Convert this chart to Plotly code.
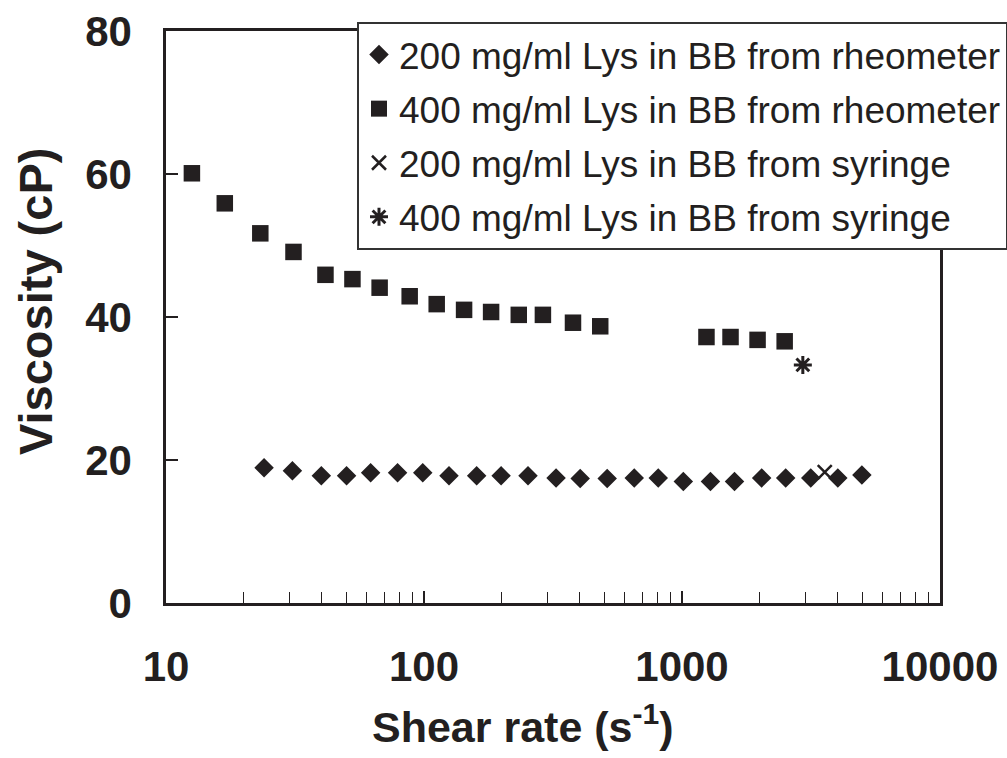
import plotly.graph_objects as go

# ---- data ----
shear_200_rheo = [24.0, 30.9, 40.0, 50.1, 62.1, 79.0, 98.9, 125, 160, 199, 253, 325,
                  403, 513, 653, 809, 1012, 1289, 1598, 2036, 2523, 3155, 4018, 4979]
visc_200_rheo = [18.9, 18.5, 17.8, 17.8, 18.2, 18.2, 18.2, 17.8, 17.8, 17.8, 17.8, 17.5,
                 17.4, 17.4, 17.5, 17.5, 17.0, 17.0, 17.0, 17.5, 17.5, 17.5, 17.5, 17.9]

shear_400_rheo = [12.6, 16.9, 23.2, 31.2, 41.5, 52.8, 67.3, 88, 112, 143, 182, 233, 289,
                  378, 482, 1244, 1542, 1963, 2500]
visc_400_rheo = [60.1, 55.9, 51.7, 49.1, 45.9, 45.3, 44.1, 42.9, 41.8, 41.0, 40.7, 40.3,
                 40.3, 39.2, 38.7, 37.2, 37.2, 36.8, 36.6]

shear_200_syr = [3575]
visc_200_syr = [18.3]

shear_400_syr = [2940]
visc_400_syr = [33.3]

series_names = [
    "200 mg/ml Lys in BB from rheometer",
    "400 mg/ml Lys in BB from rheometer",
    "200 mg/ml Lys in BB from syringe",
    "400 mg/ml Lys in BB from syringe",
]

x_tick_vals = [10, 100, 1000, 10000]
x_tick_text = ["10", "100", "1000", "10000"]
y_tick_vals = [0, 20, 40, 60, 80]

INK = "#231f20"
FONT = "Liberation Sans, Arial, sans-serif"

fig = go.Figure()
fig.add_trace(go.Scatter(
    x=shear_200_rheo, y=visc_200_rheo, mode="markers", name=series_names[0],
    legendgroup="a",
    marker=dict(symbol="diamond", size=15, color=INK, line=dict(width=0))))
fig.add_trace(go.Scatter(
    x=shear_400_rheo, y=visc_400_rheo, mode="markers", name=series_names[1],
    legendgroup="b",
    marker=dict(symbol="square", size=16.5, color=INK, line=dict(width=0))))
fig.add_trace(go.Scatter(
    x=shear_200_syr, y=visc_200_syr, mode="markers", name=series_names[2],
    legendgroup="c",
    marker=dict(symbol="x-thin-open", size=14, color=INK, line=dict(width=2.5, color=INK))))
fig.add_trace(go.Scatter(
    x=shear_400_syr, y=visc_400_syr, mode="markers", name=series_names[3],
    legendgroup="d",
    marker=dict(symbol="asterisk-open", size=15, color=INK, line=dict(width=3, color=INK))))

L, R, T, B = 166, 67, 31, 155
W, H = 1007, 758

fig.update_layout(
    width=W, height=H,
    margin=dict(l=L, r=R, t=T, b=B, autoexpand=False),
    paper_bgcolor="white", plot_bgcolor="white",
    font=dict(family=FONT, color=INK),
    showlegend=True,
    legend=dict(
        x=(357 - L) / (W - L - R), y=(H - B - 22) / (H - T - B),
        xanchor="left", yanchor="top",
        bgcolor="white", bordercolor="#333333", borderwidth=2,
        font=dict(family=FONT, size=37, color=INK),
        traceorder="grouped", tracegroupgap=3,
        itemsizing="trace",
    ),
)

fig.update_xaxes(
    type="log", range=[1, 4],
    tickmode="array", tickvals=x_tick_vals, ticktext=x_tick_text,
    ticks="inside", ticklen=12, tickwidth=1.5, tickcolor=INK,
    minor=dict(ticks="inside", ticklen=11, tickwidth=1.2, tickcolor=INK, dtick="D1", showgrid=False),
    showline=True, linecolor=INK, linewidth=2.5, mirror=True,
    showgrid=False, zeroline=False,
    tickfont=dict(family=FONT, size=42, color=INK, weight="bold"),
    ticklabelstandoff=25,
)
fig.update_yaxes(
    range=[0, 80],
    tickmode="array", tickvals=y_tick_vals,
    ticks="inside", ticklen=12, tickwidth=1.5, tickcolor=INK,
    showline=True, linecolor=INK, linewidth=2.5, mirror=True,
    showgrid=False, zeroline=False,
    tickfont=dict(family=FONT, size=42, color=INK, weight="bold"),
    ticklabelstandoff=23,
)

# axis titles as annotations for precise placement
fig.add_annotation(
    text="Shear rate (s<sup>-1</sup>)", xref="paper", yref="paper",
    x=(523 - L) / (W - L - R), y=-(724 - (H - B)) / (H - T - B),
    xanchor="center", yanchor="middle", showarrow=False,
    font=dict(family=FONT, size=43, color=INK, weight="bold"),
)
fig.add_annotation(
    text="Viscosity (cP)", xref="paper", yref="paper",
    x=-(L - 35) / (W - L - R), y=(H - B - 302) / (H - T - B),
    xanchor="center", yanchor="middle", showarrow=False, textangle=-90,
    font=dict(family=FONT, size=47, color=INK, weight="bold"),
)

fig.write_html(
    "out.html",
    config={"displayModeBar": False},
    post_script="document.body.style.margin='0';document.body.style.overflow='hidden';",
)
